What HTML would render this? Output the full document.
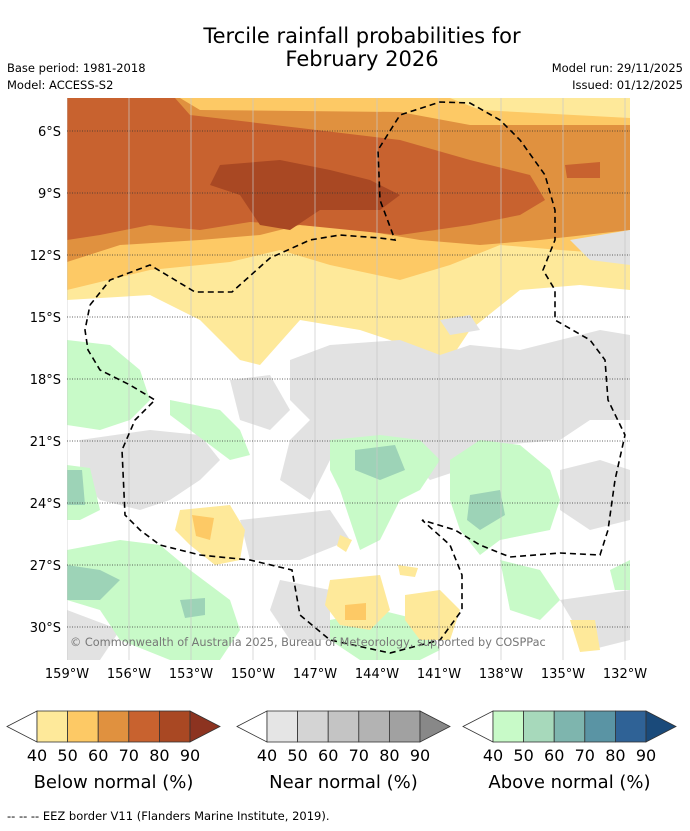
<!DOCTYPE html>
<html><head><meta charset="utf-8">
<style>
body{margin:0;background:#fff;width:690px;height:827px;overflow:hidden;font-family:"DejaVu Sans","Liberation Sans",sans-serif;}
svg text{font-family:"DejaVu Sans","Liberation Sans",sans-serif;}
</style></head>
<body>
<svg id="chart" width="690" height="827" viewBox="0 0 690 827" xmlns="http://www.w3.org/2000/svg">
<text x="362" y="43" font-size="21" text-anchor="middle" fill="#000">Tercile rainfall probabilities for</text>
<text x="362" y="66" font-size="21" text-anchor="middle" fill="#000">February 2026</text>
<text x="7" y="72" font-size="11.5">Base period: 1981-2018</text>
<text x="7" y="89" font-size="11.5">Model: ACCESS-S2</text>
<text x="683" y="72" font-size="11.5" text-anchor="end">Model run: 29/11/2025</text>
<text x="683" y="89" font-size="11.5" text-anchor="end">Issued: 01/12/2025</text>
<defs><clipPath id="mapclip"><rect x="67" y="98" width="563" height="562"/></clipPath></defs>
<g id="map" clip-path="url(#mapclip)"></g>
<g id="axes"></g>
<g id="cbars"></g>
<text x="7" y="820" font-size="11.5">--  --  -- EEZ border V11 (Flanders Marine Institute, 2019).</text>
</svg>
<script>
const NS="http://www.w3.org/2000/svg";
const latTicks=[6,9,12,15,18,21,24,27,30];
const lonTicks=[159,156,153,150,147,144,141,138,135,132];
const belowColors=["#fee99a","#fdc965","#e0913f","#c8622f","#a94823","#8c3320"];
const nearColors=["#e5e5e5","#d4d4d4","#c4c4c4","#b3b3b3","#a1a1a1","#888888"];
const aboveColors=["#c8fac8","#a7d9bb","#7eb5ae","#5a94a4","#2f6296","#1a4a7a"];
const cbTickLabels=["40","50","60","70","80","90"];
const regionLevels=[0,1,2,3,3,4];
const regionShapes=[
 [[67,98],[630,98],[630,290],[580,285],[520,290],[470,330],[450,360],[420,350],[360,330],[300,320],[260,365],[240,360],[200,320],[150,295],[67,300]],
 [[67,98],[450,98],[480,110],[630,118],[630,255],[560,250],[500,245],[450,265],[400,280],[330,265],[280,250],[230,262],[150,270],[67,290]],
 [[67,98],[180,98],[200,110],[400,112],[470,125],[630,125],[630,230],[540,240],[480,245],[420,240],[360,230],[300,225],[260,235],[200,240],[120,245],[67,262]],
 [[67,98],[175,98],[190,115],[300,128],[400,140],[470,160],[530,175],[545,200],[520,215],[470,225],[400,235],[300,225],[250,222],[200,230],[150,225],[100,235],[67,240]],
 [[565,165],[600,162],[600,178],[567,178]],
 [[220,165],[280,160],[330,170],[370,180],[400,195],[380,210],[320,210],[290,230],[260,225],[240,195],[210,185]]
];
const greyShapes=[
 [[290,360],[330,345],[400,340],[440,355],[470,345],[520,350],[560,340],[600,330],[630,335],[630,420],[590,420],[560,440],[500,445],[460,470],[430,480],[400,450],[360,445],[330,460],[310,500],[280,480],[290,440],[310,420],[290,400]],
 [[80,440],[150,430],[200,435],[220,460],[200,480],[170,500],[140,510],[100,500],[80,480]],
 [[230,380],[270,375],[290,410],[270,430],[240,420]],
 [[570,240],[630,230],[630,265],[590,260]],
 [[440,320],[470,315],[480,330],[450,335]],
 [[240,520],[330,510],[350,540],[300,560],[250,560]],
 [[280,580],[330,590],[330,640],[290,640],[270,610]],
 [[560,600],[630,590],[630,640],[590,650]],
 [[67,610],[120,630],[100,660],[67,660]],
 [[560,470],[600,460],[630,470],[630,520],[590,530],[560,510]]
];
const greenShapes=[
 [[67,340],[110,345],[140,370],[150,400],[130,420],[100,430],[67,425]],
 [[170,400],[220,410],[240,430],[250,455],[230,460],[190,430],[170,415]],
 [[330,440],[380,435],[420,440],[440,460],[420,490],[400,500],[380,540],[360,550],[350,520],[340,490],[330,470]],
 [[450,460],[480,440],[520,445],[550,470],[560,500],[550,530],[500,540],[480,555],[460,530],[450,500]],
 [[67,550],[120,540],[160,545],[190,570],[230,600],[240,630],[220,660],[170,660],[120,640],[100,610],[67,600]],
 [[67,465],[90,468],[100,510],[80,520],[67,520]],
 [[330,620],[380,610],[420,620],[440,650],[420,660],[360,660],[330,640]],
 [[500,560],[540,570],[560,600],[540,620],[510,610]],
 [[610,570],[630,560],[630,590],[615,590]]
];
const tealShapes=[
 [[355,450],[395,445],[405,470],[380,480],[355,470]],
 [[470,495],[500,490],[505,515],[480,530],[467,520]],
 [[67,565],[100,570],[120,580],[100,600],[67,600]],
 [[180,600],[205,598],[205,615],[185,618]],
 [[67,470],[82,470],[85,505],[67,505]]
];
const yellowShapes=[
 [[180,510],[230,505],[245,530],[240,560],[215,565],[190,545],[175,530]],
 [[330,580],[380,575],[390,610],[370,630],[340,625],[325,605]],
 [[405,595],[440,590],[460,610],[450,640],[420,640],[405,620]],
 [[570,620],[595,620],[600,650],[580,652]],
 [[340,535],[352,540],[346,552],[337,546]],
 [[398,565],[418,568],[415,577],[400,575]]
];
const orangeShapes=[
 [[192,515],[214,518],[210,540],[196,536]],
 [[345,605],[366,603],[366,620],[345,620]]
];
const eezLine=[[90,305],[110,280],[150,265],[195,292],[232,292],[270,258],[310,240],[340,235],[380,238],[395,240],[380,200],[378,150],[400,115],[440,102],[470,103],[500,120],[520,140],[545,175],[555,210],[555,240],[543,270],[555,290],[555,320],[590,340],[605,360],[608,400],[625,435],[615,480],[608,530],[600,555],[560,553],[510,557],[480,545],[455,530],[422,520],[450,545],[462,575],[462,610],[440,640],[390,653],[330,640],[300,615],[292,570],[250,560],[200,555],[160,545],[140,530],[125,515],[122,450],[135,420],[155,400],[130,385],[100,370],[88,350],[85,330],[90,305]];

const X0=67,PX=62/3,Y6=131;
function xScale(lonW){return X0+(159-lonW)*PX;}
function yScale(latS){return Y6+(latS-6)*PX;}
function el(tag,attrs,parent){const e=document.createElementNS(NS,tag);for(const k in attrs)e.setAttribute(k,attrs[k]);parent.appendChild(e);return e;}
function pts(s){return s.map(p=>p[0]+","+p[1]).join(" ");}
const map=document.getElementById('map');
el('rect',{x:67,y:98,width:563,height:562,fill:'#fff'},map);
function drawSet(shapes,fill,name){shapes.forEach((s,i)=>{const p=el('polygon',{points:pts(s),fill:fill},map);

});}
regionShapes.forEach((s,i)=>{const p=el('polygon',{points:pts(s),fill:belowColors[regionLevels[i]]},map);

});
drawSet(greyShapes,"#e2e2e2","near-normal-region");
drawSet(greenShapes,"#c8fac8","above-normal-50-region");
drawSet(tealShapes,"#9dd3b7","above-normal-60-region");
drawSet(yellowShapes,"#fee99a","below-normal-40-patch");
drawSet(orangeShapes,"#fdc965","below-normal-50-patch");
const ax=document.getElementById('axes');
lonTicks.forEach(l=>{const x=xScale(l);
const g=el('line',{x1:x,x2:x,y1:98,y2:660,stroke:'#c8c8c8','stroke-width':0.7},map);


const t=el('text',{x:x,y:678,'font-size':13,'text-anchor':'middle'},ax);t.textContent=l+"°W";

});
latTicks.forEach(l=>{const y=yScale(l);
const g=el('line',{x1:67,x2:630,y1:y,y2:y,stroke:'#333','stroke-width':0.7,'stroke-dasharray':'1,1.5'},map);


const t=el('text',{x:61,y:y+5,'font-size':13,'text-anchor':'end'},ax);t.textContent=l+"°S";

});
const eez=el('polyline',{points:pts(eezLine),fill:'none',stroke:'#000','stroke-width':1.6,'stroke-dasharray':'6,4'},map);


const cp=el('text',{x:70,y:646,'font-size':11.3,fill:'#777'},map);cp.textContent="© Commonwealth of Australia 2025, Bureau of Meteorology, supported by COSPPac";


const cb=document.getElementById('cbars');
const bars=[[7,belowColors,"Below normal (%)","below"],[237,nearColors,"Near normal (%)","near"],[463,aboveColors,"Above normal (%)","above"]];
bars.forEach(b=>{const x0=b[0],cols=b[1],w=30.6,y0=711,h=31;
const g=el('g',{},cb);


el('polygon',{points:`${x0},${y0+h/2} ${x0+30},${y0} ${x0+30},${y0+h}`,fill:'#fff',stroke:'#333','stroke-width':0.8},g);
for(let i=0;i<5;i++)el('rect',{x:x0+30+i*w,y:y0,width:w,height:h,fill:cols[i],stroke:'#333','stroke-width':0.8},g);
const xe=x0+30+5*w;
el('polygon',{points:`${xe},${y0} ${xe+30},${y0+h/2} ${xe},${y0+h}`,fill:cols[5],stroke:'#333','stroke-width':0.8},g);
cbTickLabels.forEach((t,i)=>{const tx=el('text',{x:x0+30+i*w,y:761,'font-size':16,'text-anchor':'middle'},g);tx.textContent=t;

});
const lb=el('text',{x:x0+30+2.5*w,y:788,'font-size':18,'text-anchor':'middle'},g);lb.textContent=b[2];


});
</script>
</body></html>
